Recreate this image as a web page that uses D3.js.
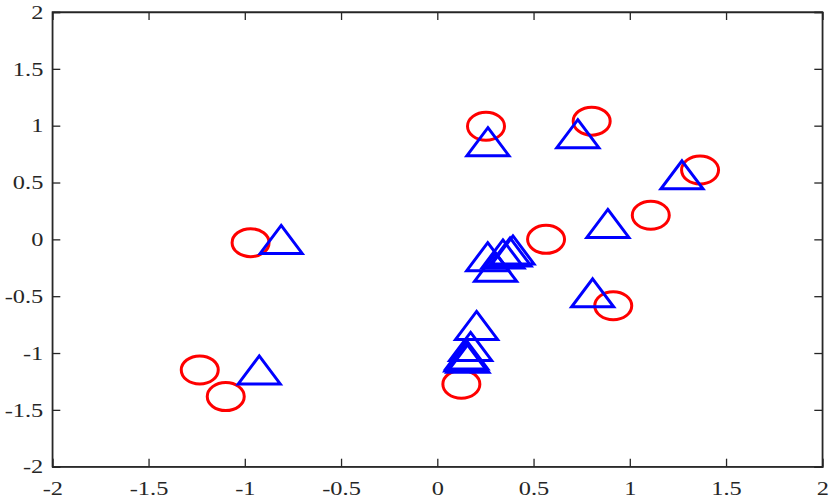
<!DOCTYPE html>
<html>
<head>
<meta charset="utf-8">
<script src="https://cdn.jsdelivr.net/npm/d3@7"></script>
<style>
  html, body { margin: 0; padding: 0; background: #fff; }
  svg { display: block; }
  .tick text { font-family: "Liberation Serif", "Times New Roman", serif; font-size: 19.5px; fill: #262626; }
</style>
</head>
<body>
<svg id="chart" width="830" height="498"></svg>
<script>
// Data
const circleX = [0.253, 0.802, 1.365, 1.109, 0.565, -0.970, 0.914, -1.234, -1.099, 0.125];
const circleY = [0.995, 1.040, 0.610, 0.212, 0.000, -0.029, -0.584, -1.149, -1.383, -1.274];
const triX = [0.263, 0.730, 1.271, 0.886, -0.811, 0.262, 0.341, 0.393, 0.378, 0.303, 0.807, 0.204, 0.173, 0.153, 0.149, 0.159, -0.925];
const triY = [0.859, 0.930, 0.568, 0.140, -0.001, -0.152, -0.128, -0.093, -0.111, -0.245, -0.470, -0.757, -0.942, -1.017, -1.034, -1.047, -1.149];
const xTicks = [-2, -1.5, -1, -0.5, 0, 0.5, 1, 1.5, 2];
const yTicks = [-2, -1.5, -1, -0.5, 0, 0.5, 1, 1.5, 2];
const xDomain = [-2, 2];
const yDomain = [-2, 2];

const svg = d3.select("#chart");
const L = 52.3, R = 822.3, T = 12, B = 466.7;
const x = d3.scaleLinear().domain(xDomain).range([L, R]);
const y = d3.scaleLinear().domain(yDomain).range([B, T]);
const SX = 1.25; // horizontal text stretch
const axisColor = "#262626";
const tickLen = 8;

svg.append("rect").attr("width", 830).attr("height", 498).attr("fill", "#fff");

// Axes
const gB = svg.append("g").attr("transform", `translate(0,${B})`)
  .call(d3.axisBottom(x).tickValues(xTicks).tickSize(-tickLen).tickFormat(d => String(d)));
const gT = svg.append("g").attr("transform", `translate(0,${T})`)
  .call(d3.axisTop(x).tickValues(xTicks).tickSize(-tickLen).tickFormat(""));
const gL = svg.append("g").attr("transform", `translate(${L},0)`)
  .call(d3.axisLeft(y).tickValues(yTicks).tickSize(-tickLen).tickFormat(d => String(d)));
const gR = svg.append("g").attr("transform", `translate(${R},0)`)
  .call(d3.axisRight(y).tickValues(yTicks).tickSize(-tickLen).tickFormat(""));

[gB, gT, gL, gR].forEach(g => {
  g.select(".domain").attr("stroke", axisColor).attr("stroke-width", 1.3);
  g.selectAll(".tick line").attr("stroke", axisColor).attr("stroke-width", 1.3);
});
gB.selectAll(".tick text").attr("y", 28).attr("dy", 0)
  .attr("transform", `scale(${SX},1)`);
gL.selectAll(".tick text").attr("x", -9 / SX).attr("dy", "0.32em")
  .attr("transform", `scale(${SX},1)`);
// Remove domain end caps overlapping: draw full box on top of ticks
svg.append("rect").attr("x", L).attr("y", T).attr("width", R - L).attr("height", B - T)
  .attr("fill", "none").attr("stroke", axisColor).attr("stroke-width", 1.3);

// Circles (red)
const circles = circleX.map((v, i) => ({ x: v, y: circleY[i] }));
svg.append("g").selectAll("ellipse").data(circles).join("ellipse")
  .attr("cx", d => x(d.x)).attr("cy", d => y(d.y))
  .attr("rx", 18.5).attr("ry", 14)
  .attr("fill", "none").attr("stroke", "#ff0000").attr("stroke-width", 3);

// Triangles (blue)
const tris = triX.map((v, i) => ({ x: v, y: triY[i] }));
const triPath = "M0,-14L21,14L-21,14Z";
svg.append("g").selectAll("path").data(tris).join("path")
  .attr("transform", d => `translate(${x(d.x)},${y(d.y)})`)
  .attr("d", triPath)
  .attr("fill", "none").attr("stroke", "#0000ff").attr("stroke-width", 3)
  .attr("stroke-linejoin", "miter");
</script>
</body>
</html>
